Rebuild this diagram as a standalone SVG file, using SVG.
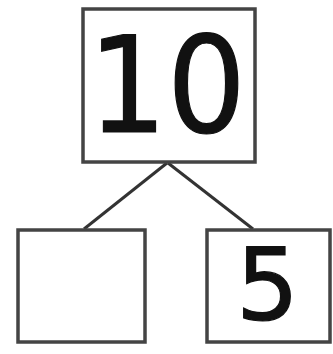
<svg xmlns="http://www.w3.org/2000/svg" width="333" height="354" viewBox="0 0 333 354">
<style>
.box{fill:#fff;stroke:#444;stroke-width:3.5}
.edge{stroke:#333;stroke-width:3;fill:none}
.num{font-family:"DejaVu Sans",sans-serif;fill:#111;stroke:#111;stroke-width:1.2}
</style>
<rect width="333" height="354" fill="#fff"/>
<g id="connectors">
<line class="edge" x1="167" y1="163" x2="84" y2="229"/>
<line class="edge" x1="168" y1="163" x2="253" y2="229"/>
</g>
<g id="top">
<rect class="box" x="83" y="9" width="172" height="153"/>
<text class="num" x="88" y="132" font-size="134" textLength="158" lengthAdjust="spacingAndGlyphs">10</text>
</g>
<g id="left">
<rect class="box" x="18" y="230" width="127" height="112"/>
</g>
<g id="right">
<rect class="box" x="207" y="230" width="123" height="112"/>
<text class="num" x="236" y="320" font-size="99">5</text>
</g>
</svg>
